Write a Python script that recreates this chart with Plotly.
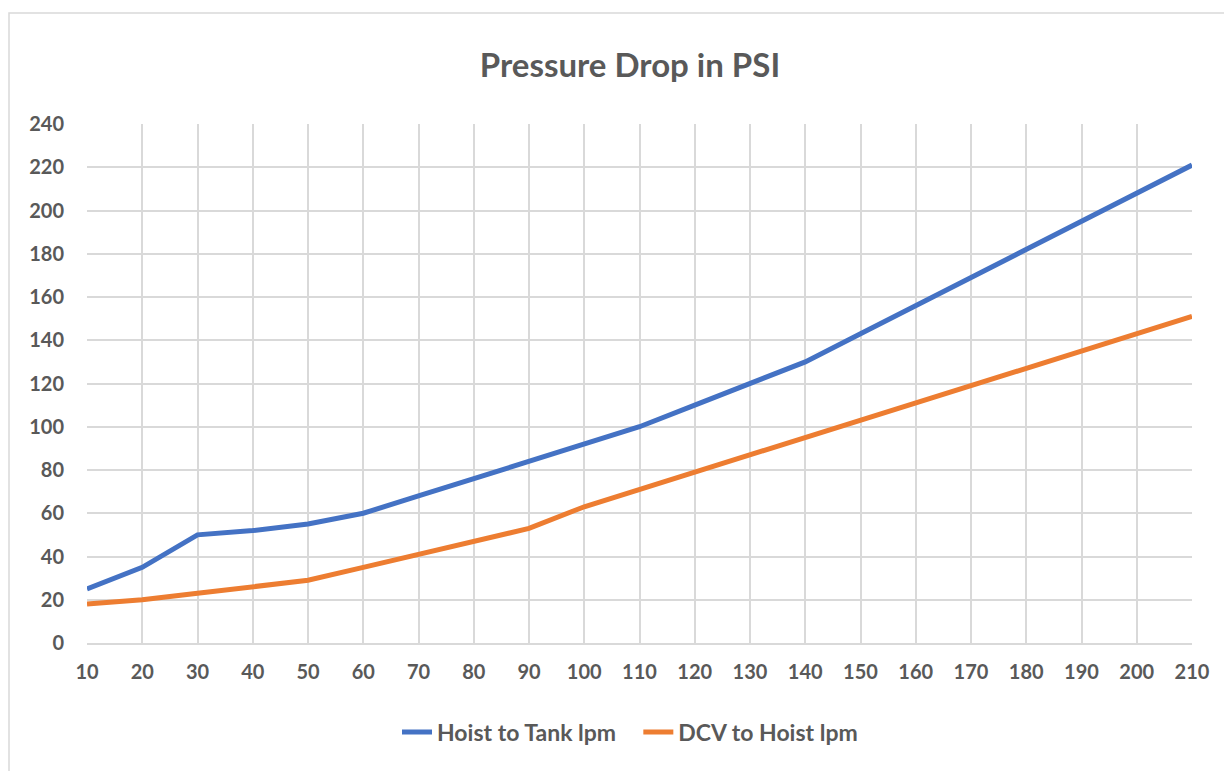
import plotly.graph_objects as go

flow_lpm = [10, 20, 30, 40, 50, 60, 70, 80, 90, 100, 110, 120, 130, 140, 150, 160, 170, 180, 190, 200, 210]
hoist_to_tank = [25, 35, 50, 52, 55, 60, 68, 76, 84, 92, 100, 110, 120, 130, 143, 156, 169, 182, 195, 208, 221]
dcv_to_hoist = [18, 20, 23, 26, 29, 35, 41, 47, 53, 63, 71, 79, 87, 95, 103, 111, 119, 127, 135, 143, 151]

FONT = "Lato, 'Open Sans', sans-serif"
GREY = "#595959"

fig = go.Figure()
fig.add_trace(go.Scatter(x=flow_lpm, y=hoist_to_tank, mode="lines",
                         name="<b>Hoist to Tank lpm</b>\u2003",
                         line=dict(color="#4472C4", width=5)))
fig.add_trace(go.Scatter(x=flow_lpm, y=dcv_to_hoist, mode="lines",
                         name="<b>DCV to Hoist lpm</b>",
                         line=dict(color="#ED7D31", width=5)))

PW, PH = 1105, 519
L, T = 79, 116

fig.update_layout(
    width=1232, height=771,
    margin=dict(l=L, r=1232 - L - PW, t=T, b=771 - T - PH),
    paper_bgcolor="white", plot_bgcolor="white",
    title=dict(text="<b>Pressure Drop in PSI</b>", x=622 / 1232, xanchor="center",
               y=1 - 57 / 771, yanchor="middle",
               font=dict(family=FONT, size=33, color=GREY)),
    font=dict(family=FONT, color=GREY),
    showlegend=True,
    legend=dict(orientation="h", x=(622 - L) / PW, xanchor="center", y=(T + PH - 724) / PH, yanchor="middle",
                font=dict(family=FONT, size=23, color=GREY), traceorder="normal"),
    xaxis=dict(range=[10, 210], tickmode="array", tickvals=flow_lpm,
               ticktext=[f"<b>{v}</b>" for v in flow_lpm],
               showgrid=True, gridcolor="#D9D9D9", gridwidth=1.5,
               showline=True, linecolor="#D9D9D9", linewidth=1.5,
               zeroline=False, ticks="", ticklabelstandoff=10,
               tickfont=dict(family=FONT, size=20, color=GREY)),
    yaxis=dict(range=[0, 240], dtick=20, tickformat="d",
               showgrid=True, gridcolor="#D9D9D9", gridwidth=1.5,
               zeroline=False, ticks="", ticklabelstandoff=22,
               tickprefix="<b>", ticksuffix="</b>",
               tickfont=dict(family=FONT, size=20, color=GREY)),
)

# outer chart border (only top and left edges fall inside the view)
fig.add_shape(type="rect", xref="paper", yref="paper",
              x0=(1 - L) / PW, x1=1.3,
              y0=-0.6, y1=(T + PH - 5) / PH,
              line=dict(color="#D9D9D9", width=1.5), fillcolor="rgba(0,0,0,0)", layer="below")

fig.write_html("out.html")
